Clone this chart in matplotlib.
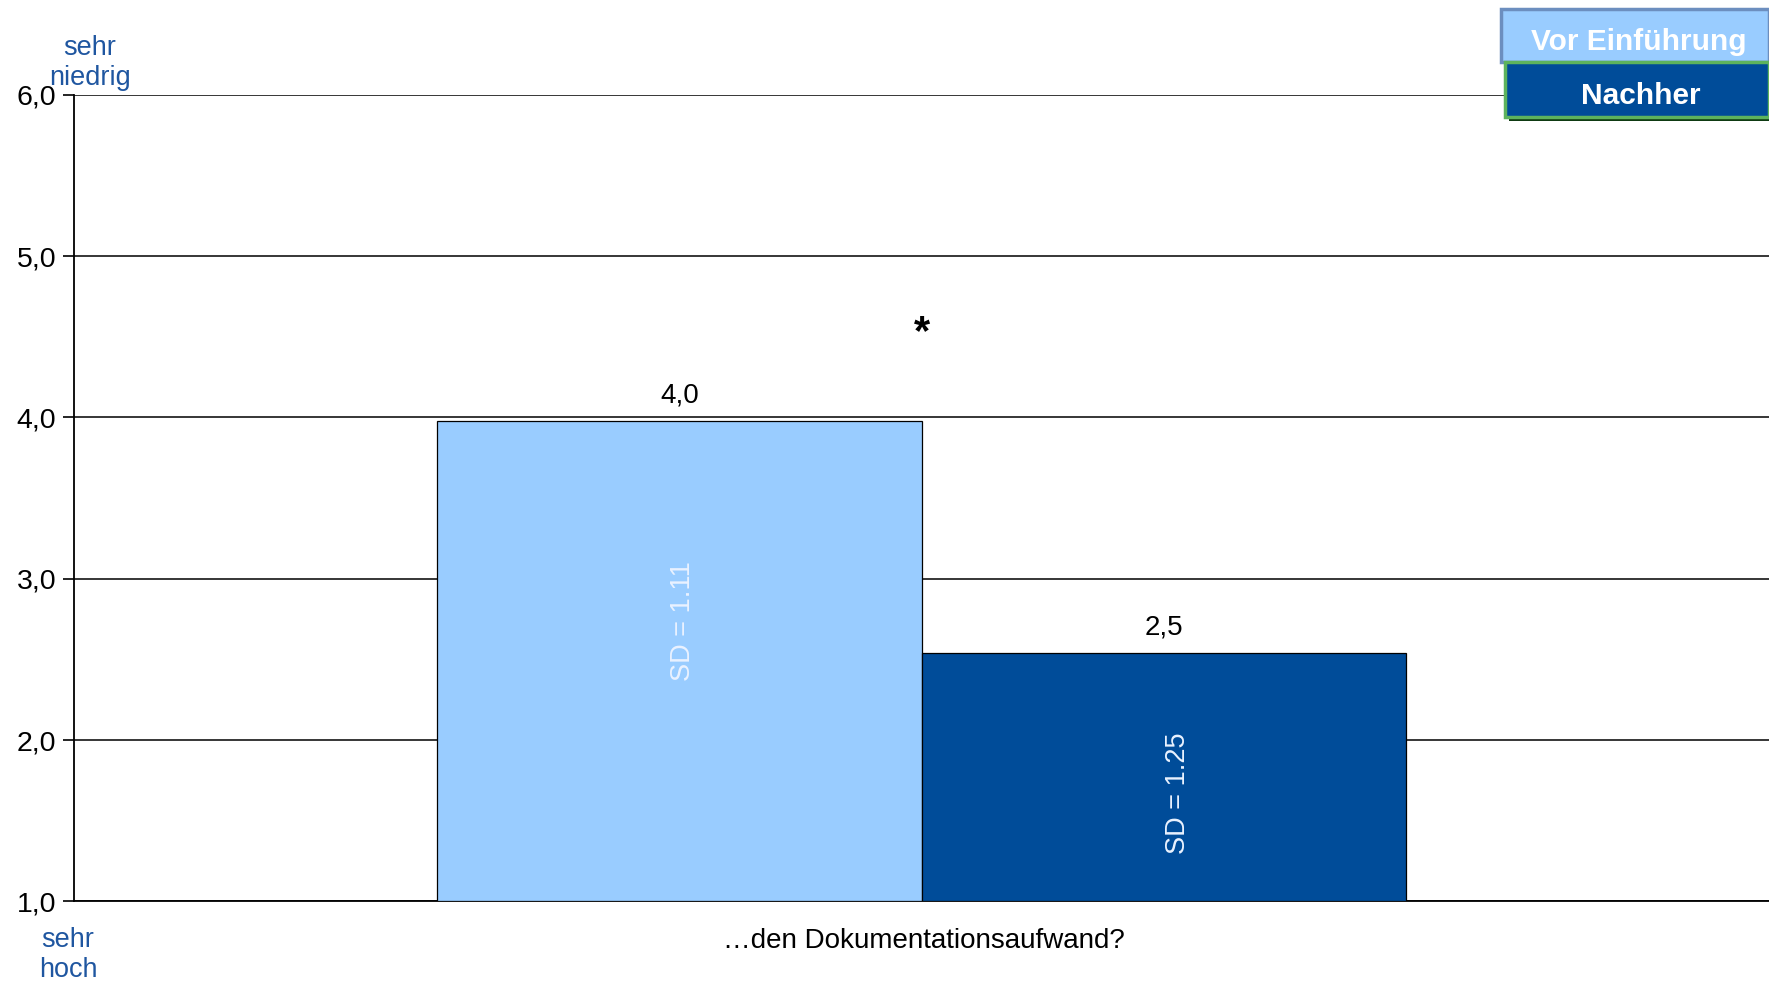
import matplotlib
matplotlib.use("Agg")
import matplotlib.pyplot as plt
from matplotlib.patches import Rectangle
from matplotlib.ticker import FuncFormatter

plt.rcParams['font.family'] = ['Liberation Sans', 'DejaVu Sans']

# Data
category = "…den Dokumentationsaufwand?"
series = ["Vor Einführung", "Nachher"]
means = [3.98, 2.54]
sds = [1.11, 1.25]
sd_label_y = [2.74, 1.67]
colors = ["#99CCFF", "#004C99"]
border_colors = ["#6C8EBF", "#5DB35D"]
y_ticks = [1.0, 2.0, 3.0, 4.0, 5.0, 6.0]

fig = plt.figure(figsize=(17.69, 9.82), dpi=100)
ax = fig.add_axes([0.0421, 0.0821, 0.9579, 0.8214])

width = 0.286
offsets = [-width / 2, width / 2]
sd_dx = [0.002, 0.008]
for i, (m, c) in enumerate(zip(means, colors)):
    x = offsets[i]
    ax.bar(x, m - y_ticks[0], bottom=y_ticks[0], width=width, color=c,
           edgecolor="black", linewidth=0.9, zorder=3)
    ax.text(x, m + 0.075, f"{m:.1f}".replace(".", ","), ha="center",
            va="bottom", fontsize=20, color="black", zorder=4)
    ax.text(x + sd_dx[i], sd_label_y[i], f"SD = {sds[i]:.2f}", rotation=90,
            ha="center", va="center", fontsize=19.5, color="#EAF2FF", zorder=4)

# significance marker
ax.text(0, 4.52, "*", ha="center", va="center", fontsize=30,
        fontweight="bold", color="black")

ax.set_xlim(-0.5, 0.5)
ax.set_ylim(y_ticks[0], y_ticks[-1])
ax.set_yticks(y_ticks)
ax.yaxis.set_major_formatter(FuncFormatter(lambda v, p: f"{v:.1f}".replace(".", ",")))
ax.tick_params(axis="y", direction="out", length=8, width=1.2, labelsize=20.5,
               pad=5, colors="black")
ax.set_xticks([])
ax.grid(axis="y", color="black", linewidth=1.1, zorder=0)
ax.set_axisbelow(True)
for s in ["top", "right"]:
    ax.spines[s].set_visible(False)
ax.spines["left"].set_linewidth(1.3)
ax.spines["bottom"].set_linewidth(1.3)

fig.text(924 / 1769, 1 - 941 / 982, category, ha="center", va="center",
         fontsize=20, color="black")

# scale anchors
fig.text(90 / 1769, 1 - 63 / 982, "sehr\nniedrig", ha="center", va="center",
         fontsize=19.5, color="#1F56A0", linespacing=1.17)
fig.text(68 / 1769, 1 - 955 / 982, "sehr\nhoch", ha="center", va="center",
         fontsize=19.5, color="#1F56A0", linespacing=1.17)

# legend boxes
W, H = 1769, 982
boxes = [(1501, 9, 62), (1505, 62, 117)]
for i, (x0, y0, y1) in enumerate(boxes):
    if i == 1:
        fig.patches.append(Rectangle(((x0 + 4) / W, 1 - (y1 + 4) / H),
                                     (W - x0) / W, (y1 - y0) / H,
                                     transform=fig.transFigure,
                                     facecolor="#0E3A12", edgecolor="none"))
    fig.patches.append(Rectangle((x0 / W, 1 - y1 / H), (W - x0) / W,
                                 (y1 - y0) / H, transform=fig.transFigure,
                                 facecolor=colors[i], edgecolor=border_colors[i],
                                 linewidth=2.5))
    fig.text((x0 + W) / 2 / W + 0.002, 1 - ((y0 + y1) / 2 + 6) / H, series[i],
             ha="center", va="center", fontsize=21.5, fontweight="bold",
             color="white")

fig.savefig("out.png", dpi=100)
